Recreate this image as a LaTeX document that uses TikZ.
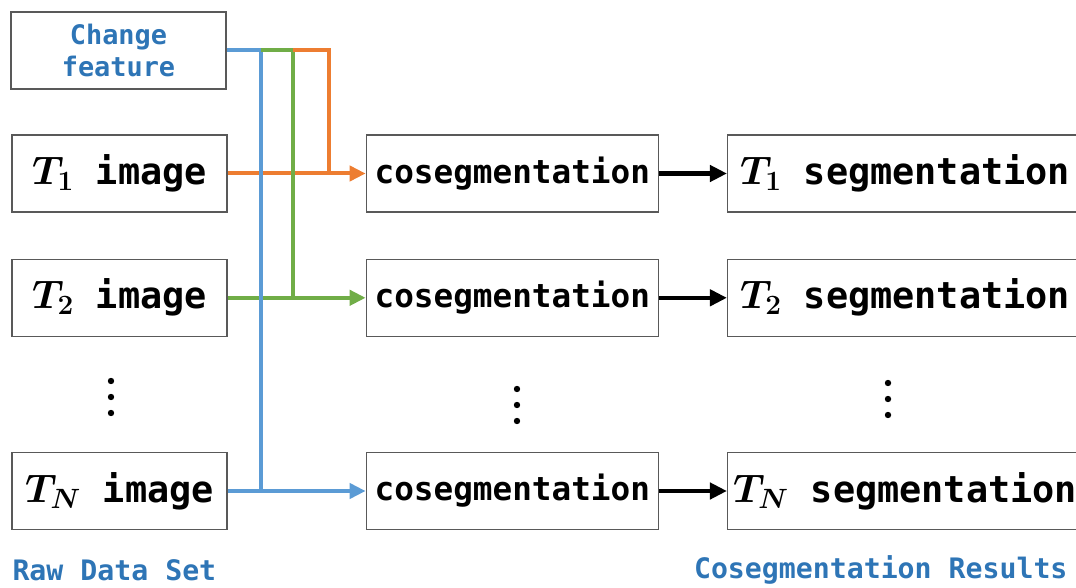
\RequirePackage{fix-cm}
\documentclass[tikz,border=0pt]{standalone}
\usepackage{amsmath}
\usepackage{bm}
\usepackage{fontspec}
\setmonofont{DejaVu Sans Mono}
\usetikzlibrary{positioning,arrows.meta}

\definecolor{featblue}{HTML}{5B9BD5}
\definecolor{featgreen}{HTML}{70AD47}
\definecolor{featorange}{HTML}{ED7D31}
\definecolor{labelblue}{HTML}{2E75B6}
\definecolor{boxgray}{HTML}{595959}

% bold italic time step, set a little larger than the mono text
\newcommand{\tstep}[1]{{\fontsize{40}{40}\selectfont$\bm{T}_{\bm{#1}}$}}

\begin{document}
\begin{tikzpicture}
    [
        x=1bp, y=-1bp,
        box/.style={draw=boxgray, line width=1.3bp, inner sep=0pt, minimum height=77bp,
            font=\ttfamily\bfseries\fontsize{37}{40}\selectfont},
        src/.style={box, minimum width=215bp},
        coseg/.style={box, minimum width=292bp, font=\ttfamily\bfseries\fontsize{32.8}{36}\selectfont},
        result/.style={box, minimum width=355bp},
        caption/.style={font=\ttfamily\bfseries\fontsize{28.3}{32}\selectfont, text=labelblue},
        feed/.style={line width=4bp, -{Triangle[length=16bp, width=15bp]}},
        link/.style={line width=4.5bp, -{Triangle[length=17bp, width=16bp]}},
        branch/.style={line width=4bp}
    ]
    \useasboundingbox (0,0) rectangle (1076,588);

    % raw data column
    \node[src, align=center, caption, font=\ttfamily\bfseries\fontsize{27}{32}\selectfont]
        (feat) at (118.5,50.5) {Change\\feature};
    \node[src] (img1) at (119.5,173.5) {\tstep{1}~image};
    \node[src, below=46bp of img1] (img2) {\tstep{2}~image};
    \node[src] (imgN) at (119.5,491) {\tstep{N}~image};

    % cosegmentation and results
    \node[coseg, right=138bp of img1] (cos1) {cosegmentation};
    \node[coseg, right=138bp of img2] (cos2) {cosegmentation};
    \node[coseg, right=138bp of imgN] (cosN) {cosegmentation};
    \node[result, right=68bp of cos1] (seg1) {\tstep{1}~segmentation};
    \node[result, right=68bp of cos2] (seg2) {\tstep{2}~segmentation};
    \node[result, right=68bp of cosN] (segN) {\tstep{N}~segmentation};

    \node[caption, anchor=west] (rawlabel) at (9,570) {Raw Data Set};
    \node[caption, anchor=east] (reslabel) at (1071,570) {Cosegmentation Results};

    % vertical dots
    \foreach \x/\y in {111/381, 517/389, 888/383}
        \foreach \d in {0,16,32}
            \fill (\x,\y+\d) circle (3.2bp);

    % image inputs
    \draw[feed, featorange] (img1) -- (cos1);
    \draw[feed, featgreen] (img2) -- (cos2);
    \draw[feed, featblue] (imgN) -- (cosN);
    \foreach \r in {1,2,N}
        \draw[link] (cos\r) -- (seg\r);

    % change feature branches
    \draw[branch, featblue] (feat.east) -- ++(34,0) coordinate (jb) -- (jb |- imgN.east);
    \draw[branch, featgreen] (jb) -- ++(32,0) coordinate (jg) -- (jg |- img2.east);
    \draw[branch, featorange] (jg) -- ++(36,0) coordinate (jo) -- (jo |- img1.east);
\end{tikzpicture}
\end{document}
